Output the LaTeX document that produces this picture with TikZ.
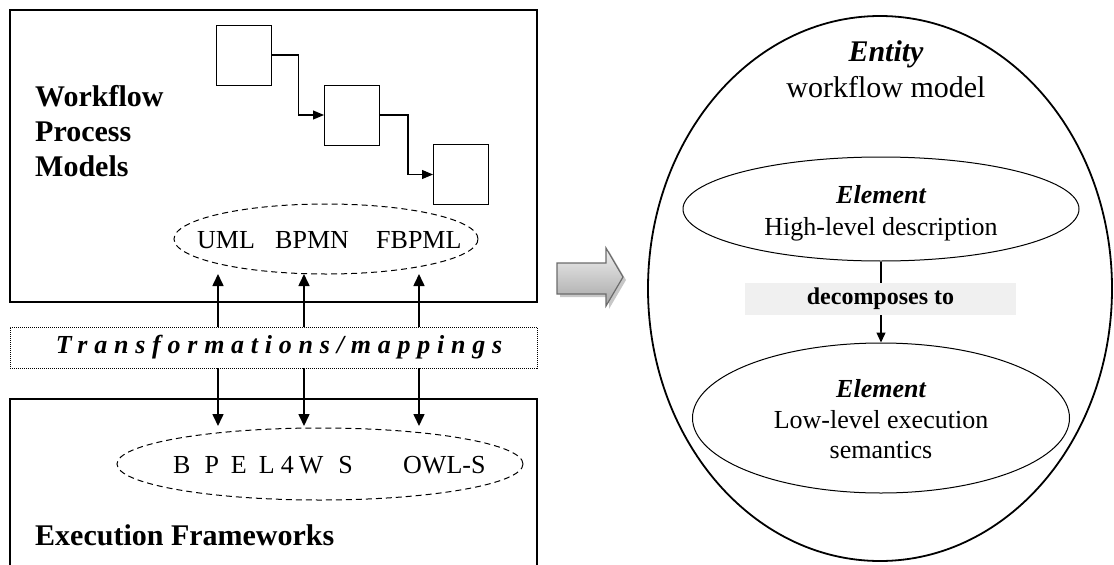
\documentclass[tikz,border=0pt]{standalone}
\usepackage{fontspec}
\setmainfont{Liberation Serif}
\newfontfamily\spacedfont[LetterSpace=26]{Liberation Serif}
\usetikzlibrary{arrows.meta,shapes.geometric}
\tikzset{
  bigbold/.style={font=\fontsize{30}{36}\selectfont\bfseries, inner sep=0pt, anchor=base west},
  lang/.style={font=\fontsize{26}{31}\selectfont, inner sep=0pt, anchor=base west},
  rtext/.style={font=\fontsize{26}{31}\selectfont, inner sep=0pt, anchor=base},
  rbi/.style={font=\fontsize{26}{31}\selectfont\bfseries\itshape, inner sep=0pt, anchor=base},
  frame/.style={draw, line width=1.3pt, inner sep=0pt},
  proc/.style={draw, line width=1pt, minimum width=55pt, minimum height=60pt, inner sep=0pt},
  flow/.style={line width=1.1pt, -{Triangle[length=11pt,width=9pt]}},
  mapto/.style={line width=1.6pt, -{Triangle[length=12pt,width=11pt]}},
  dashell/.style={ellipse, draw, line width=1pt, dash pattern=on 6pt off 4pt, inner sep=0pt},
  solell/.style={ellipse, draw, line width=1pt, inner sep=0pt},
  decarrow/.style={line width=1.3pt, -{Triangle[length=10pt,width=9pt]}},
}
\begin{document}
\begin{tikzpicture}[x=1pt,y=-1pt]
\useasboundingbox (0,0) rectangle (1114,565);

% ---------- Workflow process models box ----------
\node[frame, minimum width=527pt, minimum height=292pt] (wpm) at (273.5,156) {};
\node[bigbold] (wf1) at (35,106) {Workflow};
\node[bigbold] (wf2) at (35,141) {Process};
\node[bigbold] (wf3) at (35,176) {Models};

\node[proc] (b1) at (243.5,55) {};
\node[proc] (b2) at (352,115) {};
\node[proc] (b3) at (461,174.5) {};
\draw[flow] (b1.east) -- ++(27,0) |- (b2.west);
\draw[flow] (b2.east) -- ++(28,0) |- (b3.west);

\node[dashell, minimum width=304pt, minimum height=70pt] (langs) at (326,239) {};
\node[lang] (uml) at (197,248) {UML};
\node[lang] (bpmn) at (275,248) {BPMN};
\node[lang] (fbpml) at (376,248) {FBPML};

% ---------- Transformations ----------
\node[draw, line width=0.9pt, dash pattern=on 1pt off 1pt, minimum width=527pt, minimum height=41pt, inner sep=0pt] (tm) at (273.5,347.5) {};
\node[font=\fontsize{26}{31}\spacedfont\bfseries\itshape, inner sep=0pt, anchor=base] (tmt) at (279,353) {Transformations/mappings};

% ---------- Execution frameworks ----------
\draw[line width=1.3pt] (10,567) -- (10,399) -- (537,399) -- (537,567);
\node[dashell, minimum width=406pt, minimum height=72pt] (exe) at (320,464) {};
\node[lang] (bpel) at (173,473) {B\hspace{14pt}P\hspace{12pt}E\hspace{12pt}L\hspace{6pt}4\hspace{5pt}W\hspace{15pt}S};
\node[lang] (owls) at (403,473) {OWL-S};
\node[bigbold] (ef) at (35,545) {Execution Frameworks};

% ---------- mapping arrows ----------
\coordinate (u1) at (218,274);
\coordinate (u2) at (304,274);
\coordinate (u3) at (419,274);
\coordinate (d1) at (218,426);
\coordinate (d2) at (304,426);
\coordinate (d3) at (419,426);
\draw[mapto] (tm.north -| u1) -- (u1);
\draw[mapto] (tm.north -| u2) -- (u2);
\draw[mapto] (tm.north -| u3) -- (u3);
\draw[mapto] (tm.south -| d1) -- (d1);
\draw[mapto] (tm.south -| d2) -- (d2);
\draw[mapto] (tm.south -| d3) -- (d3);

% ---------- block arrow ----------
\fill[black!22] (560,266) -- (609,266) -- (609,251) -- (626,280) -- (609,309) -- (609,297) -- (560,297) -- cycle;
\path[top color=black!6, bottom color=black!35, draw=black!58, line width=1.2pt]
  (557,263) -- (606,263) -- (606,248) -- (623,277) -- (606,306) -- (606,294) -- (557,294) -- cycle;

% ---------- Entity ----------
\node[ellipse, draw, line width=1.8pt, inner sep=0pt, minimum width=464pt, minimum height=545pt] (ent) at (880,288.5) {};
\node[font=\fontsize{30}{36}\selectfont\bfseries\itshape, inner sep=0pt, anchor=base] (entt) at (886,61) {Entity};
\node[font=\fontsize{30}{36}\selectfont, inner sep=0pt, anchor=base] (wm) at (886,97) {workflow model};

\node[solell, minimum width=396pt, minimum height=104pt] (e1) at (881,209) {};
\node[rbi] (e1a) at (881,203) {Element};
\node[rtext] (e1b) at (881,235) {High-level description};

\node[solell, minimum width=377pt, minimum height=150pt] (e2) at (881,418) {};
\node[rbi] (e2a) at (881,397) {Element};
\node[rtext] (e2b) at (881,428) {Low-level execution};
\node[rtext] (e2c) at (881,458) {semantics};

\draw[decarrow] (e1.south) -- (e2.north);
\node[fill=black!6, inner sep=0pt, minimum width=271pt, minimum height=32pt, font=\fontsize{24}{29}\selectfont\bfseries] (dec) at (880.5,298.5) {decomposes to};
\end{tikzpicture}
\end{document}
